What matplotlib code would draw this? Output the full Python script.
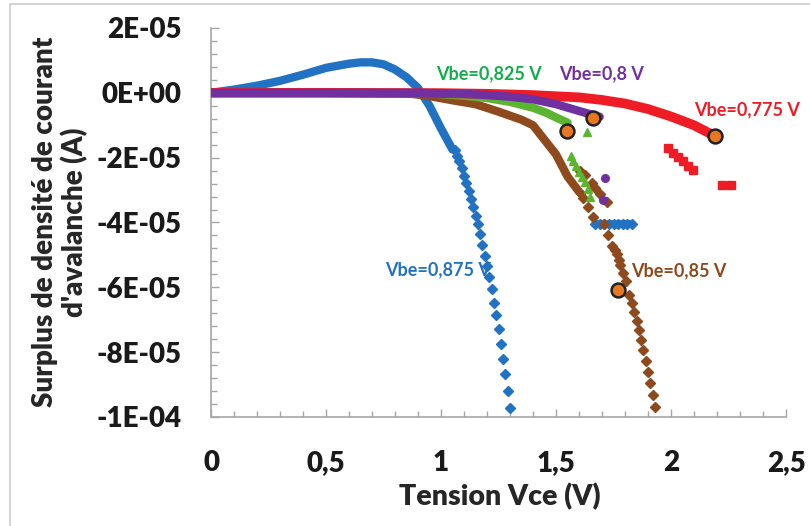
import matplotlib
matplotlib.use("Agg")
import matplotlib.pyplot as plt
from matplotlib.patches import Rectangle
from matplotlib.ticker import MultipleLocator, FuncFormatter

plt.rcParams['font.family'] = ['Lato', 'DejaVu Sans']
plt.rcParams['font.weight'] = 'heavy'

# ---- data (Vce in V, current surplus in A) ----
# Vbe = 0.875 V (blue)
blue_x = [0, 0.1, 0.2, 0.3, 0.4, 0.5, 0.6, 0.65, 0.7, 0.75, 0.8, 0.85, 0.9, 0.95, 1.0, 1.05]
blue_y = [0, 1.0e-6, 2.2e-6, 3.7e-6, 5.6e-6, 7.7e-6, 9.0e-6, 9.4e-6, 9.4e-6, 8.8e-6,
          7.2e-6, 4.8e-6, 1.5e-6, -4.0e-6, -1.1e-5, -1.75e-5]
blue_pts_x = [1.06, 1.07, 1.08, 1.09, 1.10, 1.11, 1.12, 1.13, 1.14, 1.15, 1.16, 1.17,
              1.18, 1.19, 1.20, 1.21, 1.22, 1.23, 1.24, 1.25, 1.26, 1.27, 1.28, 1.29, 1.30]
blue_pts_y = [-1.75e-5, -1.94e-5, -2.11e-5, -2.32e-5, -2.56e-5, -2.78e-5, -3.04e-5, -3.27e-5,
              -3.52e-5, -3.79e-5, -4.06e-5, -4.35e-5, -4.68e-5, -5.02e-5, -5.35e-5, -5.69e-5,
              -6.06e-5, -6.47e-5, -6.85e-5, -7.27e-5, -7.74e-5, -8.20e-5, -8.66e-5, -9.19e-5, -9.71e-5]
blue_flat_x = [1.67, 1.69, 1.71, 1.73, 1.75, 1.77, 1.79, 1.81, 1.83]
blue_flat_y = [-4.06e-5] * 9

# Vbe = 0.85 V (brown)
brown_x = [0, 0.5, 0.85, 0.95, 1.05, 1.15, 1.25, 1.35, 1.4, 1.45, 1.5, 1.55, 1.6, 1.613]
brown_y = [0, 0, -1e-7, -1.0e-6, -2.3e-6, -3.5e-6, -5.8e-6, -8.3e-6, -1.0e-5, -1.45e-5,
           -1.9e-5, -2.58e-5, -3.05e-5, -3.14e-5]
brown_pts_x = [1.604, 1.626, 1.657, 1.670, 1.691, 1.722,
               1.617, 1.639, 1.661, 1.709, 1.726, 1.743, 1.757, 1.765, 1.774, 1.778, 1.791,
               1.804, 1.817, 1.830, 1.839, 1.852, 1.861, 1.870, 1.878, 1.891, 1.900, 1.909,
               1.922, 1.930]
brown_pts_y = [-2.40e-5, -2.52e-5, -2.77e-5, -2.95e-5, -3.11e-5, -3.38e-5,
               -3.23e-5, -3.51e-5, -3.82e-5, -4.06e-5, -4.40e-5, -4.74e-5, -4.86e-5, -4.98e-5,
               -5.17e-5, -5.32e-5, -5.57e-5, -5.82e-5, -6.25e-5, -6.49e-5, -6.77e-5, -7.05e-5,
               -7.32e-5, -7.63e-5, -7.94e-5, -8.28e-5, -8.62e-5, -8.95e-5, -9.32e-5, -9.69e-5]

# Vbe = 0.825 V (green)
green_x = [0, 0.5, 0.9, 1.0, 1.1, 1.2, 1.3, 1.4, 1.46, 1.5, 1.55]
green_y = [0, 0, -1e-7, -4e-7, -9e-7, -1.6e-6, -2.8e-6, -4.6e-6, -6.2e-6, -7.6e-6, -9.2e-6]
green_pts_x = [1.635, 1.564, 1.575, 1.587, 1.601, 1.612, 1.626, 1.640, 1.648]
green_pts_y = [-1.20e-5, -1.94e-5, -2.11e-5, -2.27e-5, -2.45e-5, -2.59e-5, -2.76e-5,
               -2.96e-5, -3.21e-5]

# Vbe = 0.8 V (purple)
purple_x = [0, 0.5, 0.9, 1.0, 1.1, 1.2, 1.3, 1.4, 1.5, 1.6, 1.69]
purple_y = [0, 0, 0, -1e-7, -3e-7, -7e-7, -1.2e-6, -2.0e-6, -3.5e-6, -5.6e-6, -7.4e-6]
purple_pts_x = [1.713, 1.704]
purple_pts_y = [-2.62e-5, -3.32e-5]

# Vbe = 0.775 V (red)
red_x = [0, 0.5, 1.0, 1.2, 1.4, 1.6, 1.7, 1.8, 1.9, 2.0, 2.1, 2.19]
red_y = [0, 0, -1e-7, -3e-7, -7e-7, -1.4e-6, -2.2e-6, -3.3e-6, -5.0e-6, -7.3e-6,
         -1.0e-5, -1.33e-5]
red_pts_x = [1.987, 2.009, 2.030, 2.052, 2.074, 2.096, 2.22, 2.26]
red_pts_y = [-1.69e-5, -1.85e-5, -1.97e-5, -2.09e-5, -2.25e-5, -2.37e-5, -2.83e-5, -2.83e-5]

# end-of-curve markers
end_x = [2.19, 1.661, 1.548, 1.77]
end_y = [-1.34e-5, -7.7e-6, -1.17e-5, -6.08e-5]

labels = ["Vbe=0,825 V", "Vbe=0,8 V", "Vbe=0,775 V", "Vbe=0,875 V", "Vbe=0,85 V"]
label_x = [0.98, 1.515, 2.10, 0.755, 1.825]
label_y = [5.8e-6, 5.8e-6, -5.3e-6, -5.45e-5, -5.5e-5]

BLUE = '#2272C3'
BROWN = '#8E4A1C'
GREEN = '#5BB531'
GREEN_TXT = '#12AE4B'
PURPLE = '#7030A0'
RED = '#EE1C25'
label_colors = [GREEN_TXT, PURPLE, RED, BLUE, BROWN]

fig = plt.figure(figsize=(8.1, 5.26), dpi=100)
ax = fig.add_axes([211 / 810, 1 - 417 / 526, 575 / 810, 389 / 526])

# dense parts drawn as thick bands
ax.plot(blue_x, blue_y, color=BLUE, lw=6, solid_capstyle='round', zorder=2)
ax.plot(blue_pts_x, blue_pts_y, 'D', color=BLUE, ms=5, zorder=2)
ax.plot(blue_flat_x, blue_flat_y, color=BLUE, lw=5.5, marker='D', ms=5,
        solid_capstyle='round', zorder=2)

ax.plot(brown_x, brown_y, color=BROWN, lw=6, solid_capstyle='round', zorder=3)
ax.plot(brown_pts_x, brown_pts_y, 'D', color=BROWN, ms=5, zorder=3)

ax.plot(green_x, green_y, color=GREEN, lw=6, solid_capstyle='round', zorder=4)
ax.plot(green_pts_x, green_pts_y, '^', color=GREEN, ms=6, zorder=4)

ax.plot(red_x, red_y, color=RED, lw=7, solid_capstyle='butt', zorder=5)
ax.plot(red_pts_x, red_pts_y, 's', color=RED, ms=6, zorder=5)

ax.plot(purple_x, purple_y, color=PURPLE, lw=6, solid_capstyle='round', zorder=6)
ax.plot(purple_pts_x, purple_pts_y, 'o', color=PURPLE, ms=5.5, zorder=6)

ax.plot(end_x, end_y, 'o', color='#E87722', mec='#222222', mew=1.8, ms=10, zorder=7)

for t, lx, ly, c in zip(labels, label_x, label_y, label_colors):
    ax.text(lx, ly, t, color=c, fontsize=13, fontweight='bold', ha='left', va='center', zorder=8)

ax.set_xlim(0, 2.5)
ax.set_ylim(-1e-4, 2e-5)
ax.xaxis.set_major_locator(MultipleLocator(0.5))
ax.xaxis.set_minor_locator(MultipleLocator(0.1))
ax.yaxis.set_major_locator(MultipleLocator(2e-5))
ax.yaxis.set_minor_locator(MultipleLocator(4e-6))


def fmt_x(v, pos):
    s = ('%g' % round(v, 2)).replace('.', ',')
    return s


def fmt_y(v, pos):
    if abs(v) < 1e-12:
        return '0E+00'
    m, e = ('%.0E' % v).split('E')
    return '%sE%s%02d' % (m, e[0], abs(int(e)))


ax.xaxis.set_major_formatter(FuncFormatter(fmt_x))
ax.yaxis.set_major_formatter(FuncFormatter(fmt_y))

for side in ['top', 'right']:
    ax.spines[side].set_visible(False)
for side in ['left', 'bottom']:
    ax.spines[side].set_color('#A6A6A6')
    ax.spines[side].set_linewidth(1.2)

ax.tick_params(which='both', direction='in', color='#A6A6A6', width=1.0)
ax.tick_params(which='major', length=6, labelsize=20)
ax.tick_params(which='minor', length=4.5)
ax.tick_params(axis='y', which='major', pad=21)
ax.tick_params(axis='x', which='major', pad=24)
for lbl in ax.get_xticklabels() + ax.get_yticklabels():
    lbl.set_fontweight('heavy')
    lbl.set_color('#1A1A1A')

fig.text(500 / 810, 1 - 497 / 526, 'Tension Vce (V)', fontsize=20.5, fontweight='heavy',
         color='#262626', ha='center', va='center')
fig.text(60 / 810, 1 - 222 / 526, "Surplus de densité de courant\nd'avalanche (A)",
         fontsize=20, fontweight='heavy', color='#262626', ha='center', va='center',
         rotation=90, linespacing=1.1)

# outer chart border
fig.patches.append(Rectangle((10 / 810, -0.1), 1.1, 1 - 4 / 526 + 0.1,
                             transform=fig.transFigure, fill=False,
                             edgecolor='#D0D0D0', lw=1.3))

fig.savefig('out.png', dpi=100)
